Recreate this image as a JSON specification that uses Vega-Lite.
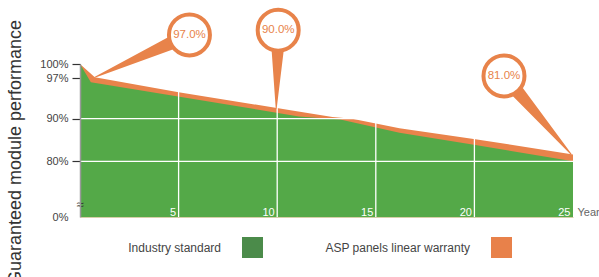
{
  "$schema": "https://vega.github.io/schema/vega-lite/v6.json",
  "width": 493,
  "height": 153,
  "autosize": "none",
  "padding": {"left": 80, "top": 64, "right": 26, "bottom": 60},
  "background": "white",
  "config": {"view": {"stroke": null}, "font": "Liberation Sans"},
  "datasets": {
    "perf": [
      {"series": "ASP panels linear warranty", "year": 0, "value": 100},
      {"series": "ASP panels linear warranty", "year": 0.75, "value": 97.2},
      {"series": "ASP panels linear warranty", "year": 5, "value": 94.6},
      {"series": "ASP panels linear warranty", "year": 10.6, "value": 91.5},
      {"series": "ASP panels linear warranty", "year": 12.8, "value": 90.3},
      {"series": "ASP panels linear warranty", "year": 13.8, "value": 90},
      {"series": "ASP panels linear warranty", "year": 16.2, "value": 87.75},
      {"series": "ASP panels linear warranty", "year": 20.05, "value": 85.2},
      {"series": "ASP panels linear warranty", "year": 25, "value": 81.6},
      {"series": "Industry standard", "year": 0, "value": 100},
      {"series": "Industry standard", "year": 0.55, "value": 96.3},
      {"series": "Industry standard", "year": 11.1, "value": 90.4},
      {"series": "Industry standard", "year": 13.2, "value": 89.8},
      {"series": "Industry standard", "year": 16.2, "value": 86.7},
      {"series": "Industry standard", "year": 20.05, "value": 83.8},
      {"series": "Industry standard", "year": 25, "value": 80}
    ],
    "gridx": [{"year": 5}, {"year": 10}, {"year": 15}, {"year": 20}],
    "gridy": [{"value": 80}, {"value": 90}],
    "callouts": [
      {"id": "a", "label": "97.0%", "year": 5.55, "value": 106.1},
      {"id": "b", "label": "90.0%", "year": 10.05, "value": 107.1},
      {"id": "c", "label": "81.0%", "year": 21.5, "value": 97.5}
    ],
    "pointers": [
      {"id": "a", "w": 1, "step": 0, "year": 5.55, "value": 106.1},
      {"id": "a", "w": 0, "step": 1, "year": 0.74, "value": 97.2},
      {"id": "b", "w": 1, "step": 0, "year": 10.05, "value": 107.1},
      {"id": "b", "w": 0, "step": 1, "year": 9.95, "value": 91.8},
      {"id": "c", "w": 1, "step": 0, "year": 21.5, "value": 97.5},
      {"id": "c", "w": 0, "step": 1, "year": 24.9, "value": 81.7}
    ],
    "brk": [{"year": 0, "value": 17.2, "t": "≈"}]
  },
  "layer": [
    {
      "data": {"name": "perf"},
      "transform": [{"filter": "datum.series === 'ASP panels linear warranty'"}],
      "mark": {"type": "area", "opacity": 1, "color": "#e9834b"},
      "encoding": {
        "x": {
          "field": "year", "type": "quantitative",
          "scale": {"domain": [0, 25], "nice": false},
          "axis": {
            "values": [5, 10, 15, 20, 25],
            "tickCount": 20,
            "grid": false, "ticks": false, "tickSize": 0,
            "labelPadding": -2, "labelAlign": "right", "labelBaseline": "alphabetic",
            "labelOffset": -3, "labelColor": "white", "labelFontSize": 11,
            "labelFlush": false, "labelOverlap": false,
            "domainColor": "#d6cfa8", "domainWidth": 1,
            "title": "Years", "titleX": 497, "titleY": -2, "titleAlign": "left",
            "titleBaseline": "alphabetic", "titleFontSize": 11, "titleFontWeight": "normal",
            "titleColor": "#666", "zindex": 1
          }
        },
        "y": {
          "field": "value", "type": "quantitative",
          "scale": {"domain": [0, 80, 90, 97, 100], "range": [153, 97.3, 54.7, 14.3, 0], "nice": false, "zero": false},
          "axis": {
            "values": [0, 80, 90, 97, 100],
            "tickCount": 20,
            "labelExpr": "datum.value + '%'",
            "labelOverlap": false, "labelFlush": false,
            "grid": false,
            "labelFontSize": 11, "labelColor": "#444", "labelPadding": 4,
            "tickSize": 8, "tickWidth": 1.2,
            "tickColor": {"condition": {"test": "datum.value === 0", "value": "transparent"}, "value": "#333"},
            "domainColor": "#999", "domainWidth": 1.5,
            "title": "Guaranteed module performance",
            "titleFontSize": 18, "titleFontWeight": "normal", "titleColor": "#333",
            "titleX": -65, "titleY": 88, "titleAngle": -90, "titleAlign": "center", "titleBaseline": "middle",
            "zindex": 1
          }
        }
      }
    },
    {
      "data": {"name": "perf"},
      "transform": [{"filter": "datum.series === 'Industry standard'"}],
      "mark": {"type": "area", "opacity": 1, "color": "#54a948"},
      "encoding": {
        "x": {"field": "year", "type": "quantitative"},
        "y": {"field": "value", "type": "quantitative"}
      }
    },
    {
      "data": {"name": "perf"},
      "mark": {"type": "square", "opacity": 0},
      "encoding": {
        "x": {"field": "year", "type": "quantitative"},
        "y": {"field": "value", "type": "quantitative"},
        "color": {
          "field": "series", "type": "nominal",
          "scale": {"domain": ["Industry standard", "ASP panels linear warranty"], "range": ["#4b8b4a", "#e8814a"]},
          "legend": {
            "orient": "none", "legendX": 162, "legendY": 173,
            "direction": "horizontal", "title": null,
            "symbolType": "square", "symbolSize": 441, "symbolStrokeWidth": 0, "symbolOpacity": 1,
            "labelAlign": "right", "labelOffset": -42, "labelFontSize": 12, "labelColor": "#444",
            "labelLimit": 300, "columnPadding": 62
          }
        }
      }
    },
    {
      "data": {"name": "gridx"},
      "mark": {"type": "rule", "color": "white", "strokeWidth": 1.3},
      "encoding": {"x": {"field": "year", "type": "quantitative"}}
    },
    {
      "data": {"name": "gridy"},
      "mark": {"type": "rule", "color": "white", "strokeWidth": 1.3},
      "encoding": {"y": {"field": "value", "type": "quantitative"}}
    },
    {
      "data": {"name": "pointers"},
      "mark": {"type": "trail", "color": "#e8834a"},
      "encoding": {
        "x": {"field": "year", "type": "quantitative"},
        "y": {"field": "value", "type": "quantitative"},
        "detail": {"field": "id"},
        "order": {"field": "step", "type": "quantitative"},
        "size": {"field": "w", "type": "quantitative", "scale": {"domain": [0, 1], "range": [0, 16]}, "legend": null}
      }
    },
    {
      "data": {"name": "callouts"},
      "mark": {"type": "point", "shape": "circle", "filled": false, "fill": "white", "fillOpacity": 1, "stroke": "#e8834a", "strokeWidth": 4, "size": 1681, "opacity": 1},
      "encoding": {
        "x": {"field": "year", "type": "quantitative"},
        "y": {"field": "value", "type": "quantitative"}
      }
    },
    {
      "data": {"name": "callouts"},
      "mark": {"type": "text", "fontSize": 11.5, "color": "#e8834a", "align": "center", "baseline": "middle"},
      "encoding": {
        "x": {"field": "year", "type": "quantitative"},
        "y": {"field": "value", "type": "quantitative"},
        "text": {"field": "label"}
      }
    },
    {
      "data": {"name": "brk"},
      "mark": {"type": "text", "fontSize": 13, "color": "#333", "align": "center", "baseline": "middle"},
      "encoding": {
        "x": {"field": "year", "type": "quantitative"},
        "y": {"field": "value", "type": "quantitative"},
        "text": {"field": "t"}
      }
    }
  ]
}
